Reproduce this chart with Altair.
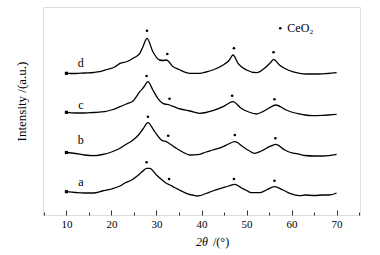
import altair as alt
import pandas as pd

# ---- data (2θ in degrees, intensity in arbitrary units) ----
x_a = [10, 12, 14, 16, 18, 20, 21.9, 23, 24.5, 26, 27, 27.8, 28.5, 30, 31, 32.2, 33, 34, 35.1, 36, 37.4,
       38, 39, 39.6, 41, 42.5, 44.8, 46, 47.4, 48.8, 50, 51.1, 52.9, 54.4, 56.2, 58.1, 59.6, 61.8, 63, 65,
       67, 68.4, 70]
y_a = [23.3, 22.5, 22, 22, 24, 26, 29, 32, 35, 40, 44, 46.7, 46.7, 40, 36, 31.7, 30, 27.5, 25, 23, 20.5,
       20, 19, 19.3, 21.5, 24, 27.3, 29, 30.7, 27.3, 24.5, 22.3, 22.3, 25, 28.3, 25, 21.7, 19.3, 20, 19.5,
       20, 20, 22]

x_b = [10, 12, 14, 16, 18, 20, 21.9, 23, 24.8, 26, 27, 28.1, 29.6, 31.1, 32.2, 33, 34.4, 36, 37.4, 39.6,
       41, 42.5, 44.8, 46, 47.4, 49.2, 50.5, 51.8, 53.3, 55.1, 56.5, 58.5, 59.8, 61.8, 63, 65, 67, 70]
y_b = [62.5, 61.5, 60, 59.3, 60.5, 63, 66.7, 70, 75, 80, 86, 92.3, 83.3, 75, 73.3, 71, 66.7, 62.5, 60, 60.7,
       63, 65, 68.3, 71, 73.3, 68.3, 64.5, 61.7, 64, 68.3, 70.7, 65, 62.5, 60.7, 59.5, 59, 59, 60.7]

x_c = [10, 12, 14, 16, 18.5, 20, 21.9, 23.3, 24.8, 26.3, 27.2, 28.1, 29.2, 30.3, 31.4, 32.9, 34.8, 37.4,
       39.6, 41, 42.5, 44.8, 47, 48.8, 50.5, 52.2, 53.6, 55, 56.5, 58.8, 60.3, 61.8, 63, 64.7, 67, 70]
y_c = [102.7, 102, 102, 102.5, 103.3, 105, 108.3, 111, 114, 123.3, 128, 133.3, 125, 116.7, 111.7, 110,
       106.7, 104, 101.7, 102.5, 104.3, 108.3, 113.3, 106.7, 103, 101, 103.3, 107, 110, 105, 102.5, 101,
       100, 99.3, 99.7, 100.7]

x_d = [10, 12, 14, 16, 17.4, 19, 20.7, 21.9, 23.5, 24.8, 26.3, 27, 27.9, 29.2, 30.7, 31.5, 32.2, 33.7, 35,
       37.4, 39.6, 41, 42.5, 44.8, 46.2, 47, 48.1, 50, 52.2, 54.4, 55.5, 56, 57.3, 59.2, 61.8, 63.3, 66, 68, 70]
y_d = [141.7, 141.5, 142, 142.5, 143.3, 145.5, 148, 151.7, 153.5, 156.7, 161.7, 168.3, 176.7, 163.3, 155,
       154.5, 155, 148.3, 145.5, 141.7, 141.7, 143, 145, 150, 155, 160, 151.7, 145, 142.3, 148.3, 153.3,
       155.7, 150, 145, 141.7, 141, 141, 141.5, 142.3]

samples = ["a", "b", "c", "d"]
curves_x = [x_a, x_b, x_c, x_d]
curves_y = [y_a, y_b, y_c, y_d]

# CeO2 reflection markers above each curve
dot_x = [27.8, 32.8, 47.2, 56.2, 28.1, 32.6, 47.4, 56.4, 27.8, 32.9, 46.8, 56.2, 27.9, 32.4, 47.2, 56.0]
dot_y = [52.7, 36, 36, 34.3, 98.3, 79.3, 80, 76.7, 139, 116.3, 119.3, 115.7, 184.3, 161, 166.7, 162.7]

label_x = [13.2, 13.2, 13.2, 13.2]
label_y = [32.7, 75, 109.7, 152]

legend_x = [57.5]
legend_y = [186.7]
legend_text = ["CeO₂"]

major_ticks = [10, 20, 30, 40, 50, 60, 70]
minor_ticks = [5, 15, 25, 35, 45, 55, 65, 75]

# ---- tables ----
rows = []
for s, xs, ys in zip(samples, curves_x, curves_y):
    for xv, yv in zip(xs, ys):
        rows.append({"two_theta": xv, "intensity": yv, "sample": s})
lines_df = pd.DataFrame(rows)
start_df = pd.DataFrame({"two_theta": [xs[0] for xs in curves_x],
                         "intensity": [ys[0] for ys in curves_y], "sample": samples})
dots_df = pd.DataFrame({"two_theta": dot_x, "intensity": dot_y})
labels_df = pd.DataFrame({"two_theta": label_x, "intensity": label_y, "label": samples})
legend_df = pd.DataFrame({"two_theta": legend_x, "intensity": legend_y, "label": legend_text})

FONT = "Liberation Serif"
xscale = alt.Scale(domain=[4.8, 75.2], nice=False, zero=False)
yscale = alt.Scale(domain=[0, 208], nice=False, zero=False)

x_major = alt.X("two_theta:Q", scale=xscale, axis=alt.Axis(
    orient="bottom", values=major_ticks, tickSize=5, offset=-5, domain=False, grid=False,
    tickColor="#333", tickWidth=1, labelFont=FONT, labelFontSize=11, labelColor="black",
    labelPadding=3, labelFlush=False, title=None))
x_minor = alt.X("two_theta:Q", scale=xscale, axis=alt.Axis(
    orient="bottom", values=minor_ticks, tickSize=3, offset=-3, domain=False, grid=False,
    tickColor="#333", tickWidth=1, labels=False, title=None))
x_none = alt.X("two_theta:Q", scale=xscale, axis=None)

y_main = alt.Y("intensity:Q", scale=yscale, axis=alt.Axis(
    labels=False, ticks=False, domain=False, grid=False, title="Intensity /(a.u.)",
    titleFont=FONT, titleFontSize=13, titleFontWeight="normal", titleColor="black",
    titlePadding=15, titleY=94))

lines = alt.Chart(lines_df).mark_line(color="black", strokeWidth=1.3, interpolate="monotone").encode(
    x=x_major, y=y_main, detail="sample:N")

minor = alt.Chart(dots_df).mark_point(opacity=0).encode(x=x_minor, y=y_main)

starts = alt.Chart(start_df).mark_point(shape="square", filled=True, color="black", size=10, opacity=1).encode(
    x=x_none, y=y_main)

dots = alt.Chart(dots_df).mark_circle(color="black", size=7, opacity=1).encode(x=x_none, y=y_main)

labels = alt.Chart(labels_df).mark_text(font=FONT, fontSize=12, color="black", align="center",
                                        baseline="middle").encode(x=x_none, y=y_main, text="label:N")

legend_dot = alt.Chart(legend_df).mark_circle(color="black", size=7, opacity=1).encode(x=x_none, y=y_main)
legend_lbl = alt.Chart(legend_df).mark_text(font=FONT, fontSize=12, color="black", align="left",
                                            baseline="middle", dx=7).encode(x=x_none, y=y_main, text="label:N")

title_df = pd.DataFrame({"t1": ["2θ"], "t2": ["/(°)"]})
title_a = alt.Chart(title_df).mark_text(font=FONT, fontSize=12, fontStyle="italic", color="black",
                                        align="left", baseline="middle").encode(
    x=alt.value(153), y=alt.value(235), text="t1:N")
title_b = alt.Chart(title_df).mark_text(font=FONT, fontSize=12, color="black",
                                        align="left", baseline="middle").encode(
    x=alt.value(170), y=alt.value(235), text="t2:N")

chart = alt.layer(lines, minor, starts, dots, labels, legend_dot, legend_lbl, title_a, title_b).resolve_axis(
    x="independent").properties(
    width=317, height=208, autosize="none",
    padding={"left": 43, "top": 7, "right": 20, "bottom": 40},
).configure_view(stroke="#8a8a8a", strokeWidth=1).configure(background="white")

chart.save("out.html", embed_options={"renderer": "svg", "actions": False})
